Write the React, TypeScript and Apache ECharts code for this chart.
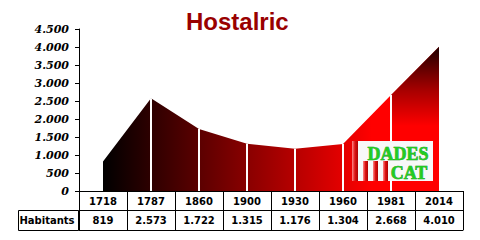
import React, { useEffect, useRef } from "react";
import * as echarts from "echarts";

const years = ["1718", "1787", "1860", "1900", "1930", "1960", "1981", "2014"];
const habitants = [819, 2573, 1722, 1315, 1176, 1304, 2668, 4010];
const yTicks = { min: 0, max: 4500, interval: 500 };
const rowLabel = "Habitants";
const title = "Hostalric";

const fmt = (v: number) => String(v).replace(/\B(?=(\d{3})+(?!\d))/g, ".");

export default function App() {
  const ref = useRef<HTMLDivElement>(null);
  useEffect(() => {
    document.body.style.margin = "0";
    if (!ref.current) return;
    const chart = echarts.init(ref.current, undefined, { renderer: "svg" });
    const last = habitants.length - 1;
    const tableFont = { fontFamily: "DejaVu Sans", fontWeight: "bold" as const, fontSize: 10, color: "#000" };
    const barGrad = () =>
      new echarts.graphic.LinearGradient(0, 0, 1, 0, [
        { offset: 0, color: "#ff8888" },
        { offset: 0.5, color: "#dd1111" },
        { offset: 1, color: "#aa0000" },
      ]);
    chart.setOption({
      animation: false,
      title: {
        text: title,
        left: 181,
        top: 4,
        textStyle: { fontFamily: "Liberation Sans", fontWeight: "bold", fontSize: 24, color: "#990000" },
      },
      grid: { left: 79, right: 17, top: 29, bottom: 49 },
      xAxis: [
        {
          type: "category",
          data: years,
          boundaryGap: true,
          position: "bottom",
          axisLine: { show: true, lineStyle: { color: "#000", width: 1 } },
          axisTick: { show: true, interval: 0, length: 19, lineStyle: { color: "#000" } },
          axisLabel: { interval: 0, margin: 5, ...tableFont },
          splitLine: { show: false },
        },
        {
          type: "category",
          data: habitants.map(fmt),
          boundaryGap: true,
          position: "bottom",
          offset: 19,
          axisLine: { show: true, lineStyle: { color: "#000", width: 1 } },
          axisTick: { show: true, interval: 0, length: 20, lineStyle: { color: "#000" } },
          axisLabel: { interval: 0, margin: 5, ...tableFont },
          splitLine: { show: false },
        },
        {
          type: "category",
          data: years,
          boundaryGap: true,
          position: "bottom",
          offset: 39,
          axisLine: { show: true, lineStyle: { color: "#000", width: 1 } },
          axisTick: { show: false },
          axisLabel: { show: false },
          splitLine: { show: false },
        },
      ],
      yAxis: {
        type: "value",
        min: yTicks.min,
        max: yTicks.max,
        interval: yTicks.interval,
        axisLine: { show: true, lineStyle: { color: "#000", width: 1 } },
        axisTick: { show: true, length: 4, lineStyle: { color: "#000" } },
        splitLine: { show: false },
        axisLabel: {
          margin: 10,
          formatter: (v: number) => fmt(v),
          fontFamily: "DejaVu Serif",
          fontStyle: "italic",
          fontWeight: "bold",
          fontSize: 11,
          color: "#000",
        },
      },
      series: [
        {
          type: "line",
          data: habitants,
          symbol: "none",
          lineStyle: { width: 0 },
          areaStyle: {
            opacity: 1,
            color: new echarts.graphic.LinearGradient(0, 0, 1, 0, [
              { offset: 0, color: "#000000" },
              { offset: 0.8, color: "#ff0000" },
              { offset: 1, color: "#ff0000" },
            ]),
          },
          z: 2,
        },
        {
          type: "line",
          data: habitants.map((v, i) => (i >= last - 1 ? v : null)),
          symbol: "none",
          connectNulls: false,
          lineStyle: { width: 0 },
          areaStyle: {
            opacity: 1,
            color: new echarts.graphic.LinearGradient(0, 0, 0, 1, [
              { offset: 0, color: "rgba(0,0,0,0.88)" },
              { offset: 0.3, color: "rgba(0,0,0,0.35)" },
              { offset: 0.55, color: "rgba(0,0,0,0)" },
              { offset: 1, color: "rgba(0,0,0,0)" },
            ]),
          },
          z: 3,
        },
        {
          type: "bar",
          data: habitants.map((v, i) => (i === 0 || i === last ? null : v)),
          barWidth: 2,
          itemStyle: { color: "#ffffff" },
          z: 4,
        },
      ],
      graphic: [
        {
          type: "rect",
          shape: { x: 18.5, y: 210.5, width: 60, height: 20 },
          style: { fill: "none", stroke: "#000", lineWidth: 1 },
          z: 10,
        },
        {
          type: "text",
          x: 47,
          y: 220.5,
          style: {
            text: rowLabel,
            align: "center",
            verticalAlign: "middle",
            font: "bold 10px 'DejaVu Sans'",
            fill: "#000",
          },
          z: 10,
        },
        {
          type: "group",
          z: 20,
          children: [
            { type: "rect", shape: { x: 352, y: 141, width: 81, height: 40 }, style: { fill: "#f8f8f8" }, z: 20 },
            { type: "rect", shape: { x: 352, y: 141, width: 6, height: 40 }, style: { fill: barGrad() }, z: 21 },
            ...[363, 373, 383].map((bx) => ({
              type: "rect",
              shape: { x: bx, y: 161, width: 5, height: 20 },
              style: { fill: barGrad() },
              z: 21,
            })),
            {
              type: "text",
              x: 398,
              y: 153.5,
              style: {
                text: "DADES",
                align: "center",
                verticalAlign: "middle",
                font: "bold 18px 'Liberation Serif'",
                fill: "#22cc22",
                stroke: "#0a8a0a",
                lineWidth: 0.6,
              },
              z: 22,
            },
            {
              type: "text",
              x: 409,
              y: 173,
              style: {
                text: "CAT",
                align: "center",
                verticalAlign: "middle",
                font: "bold 18px 'Liberation Serif'",
                fill: "#22cc22",
                stroke: "#0a8a0a",
                lineWidth: 0.6,
              },
              z: 22,
            },
          ],
        },
      ],
    });
    return () => chart.dispose();
  }, []);
  return <div ref={ref} style={{ width: 480, height: 240 }} />;
}
